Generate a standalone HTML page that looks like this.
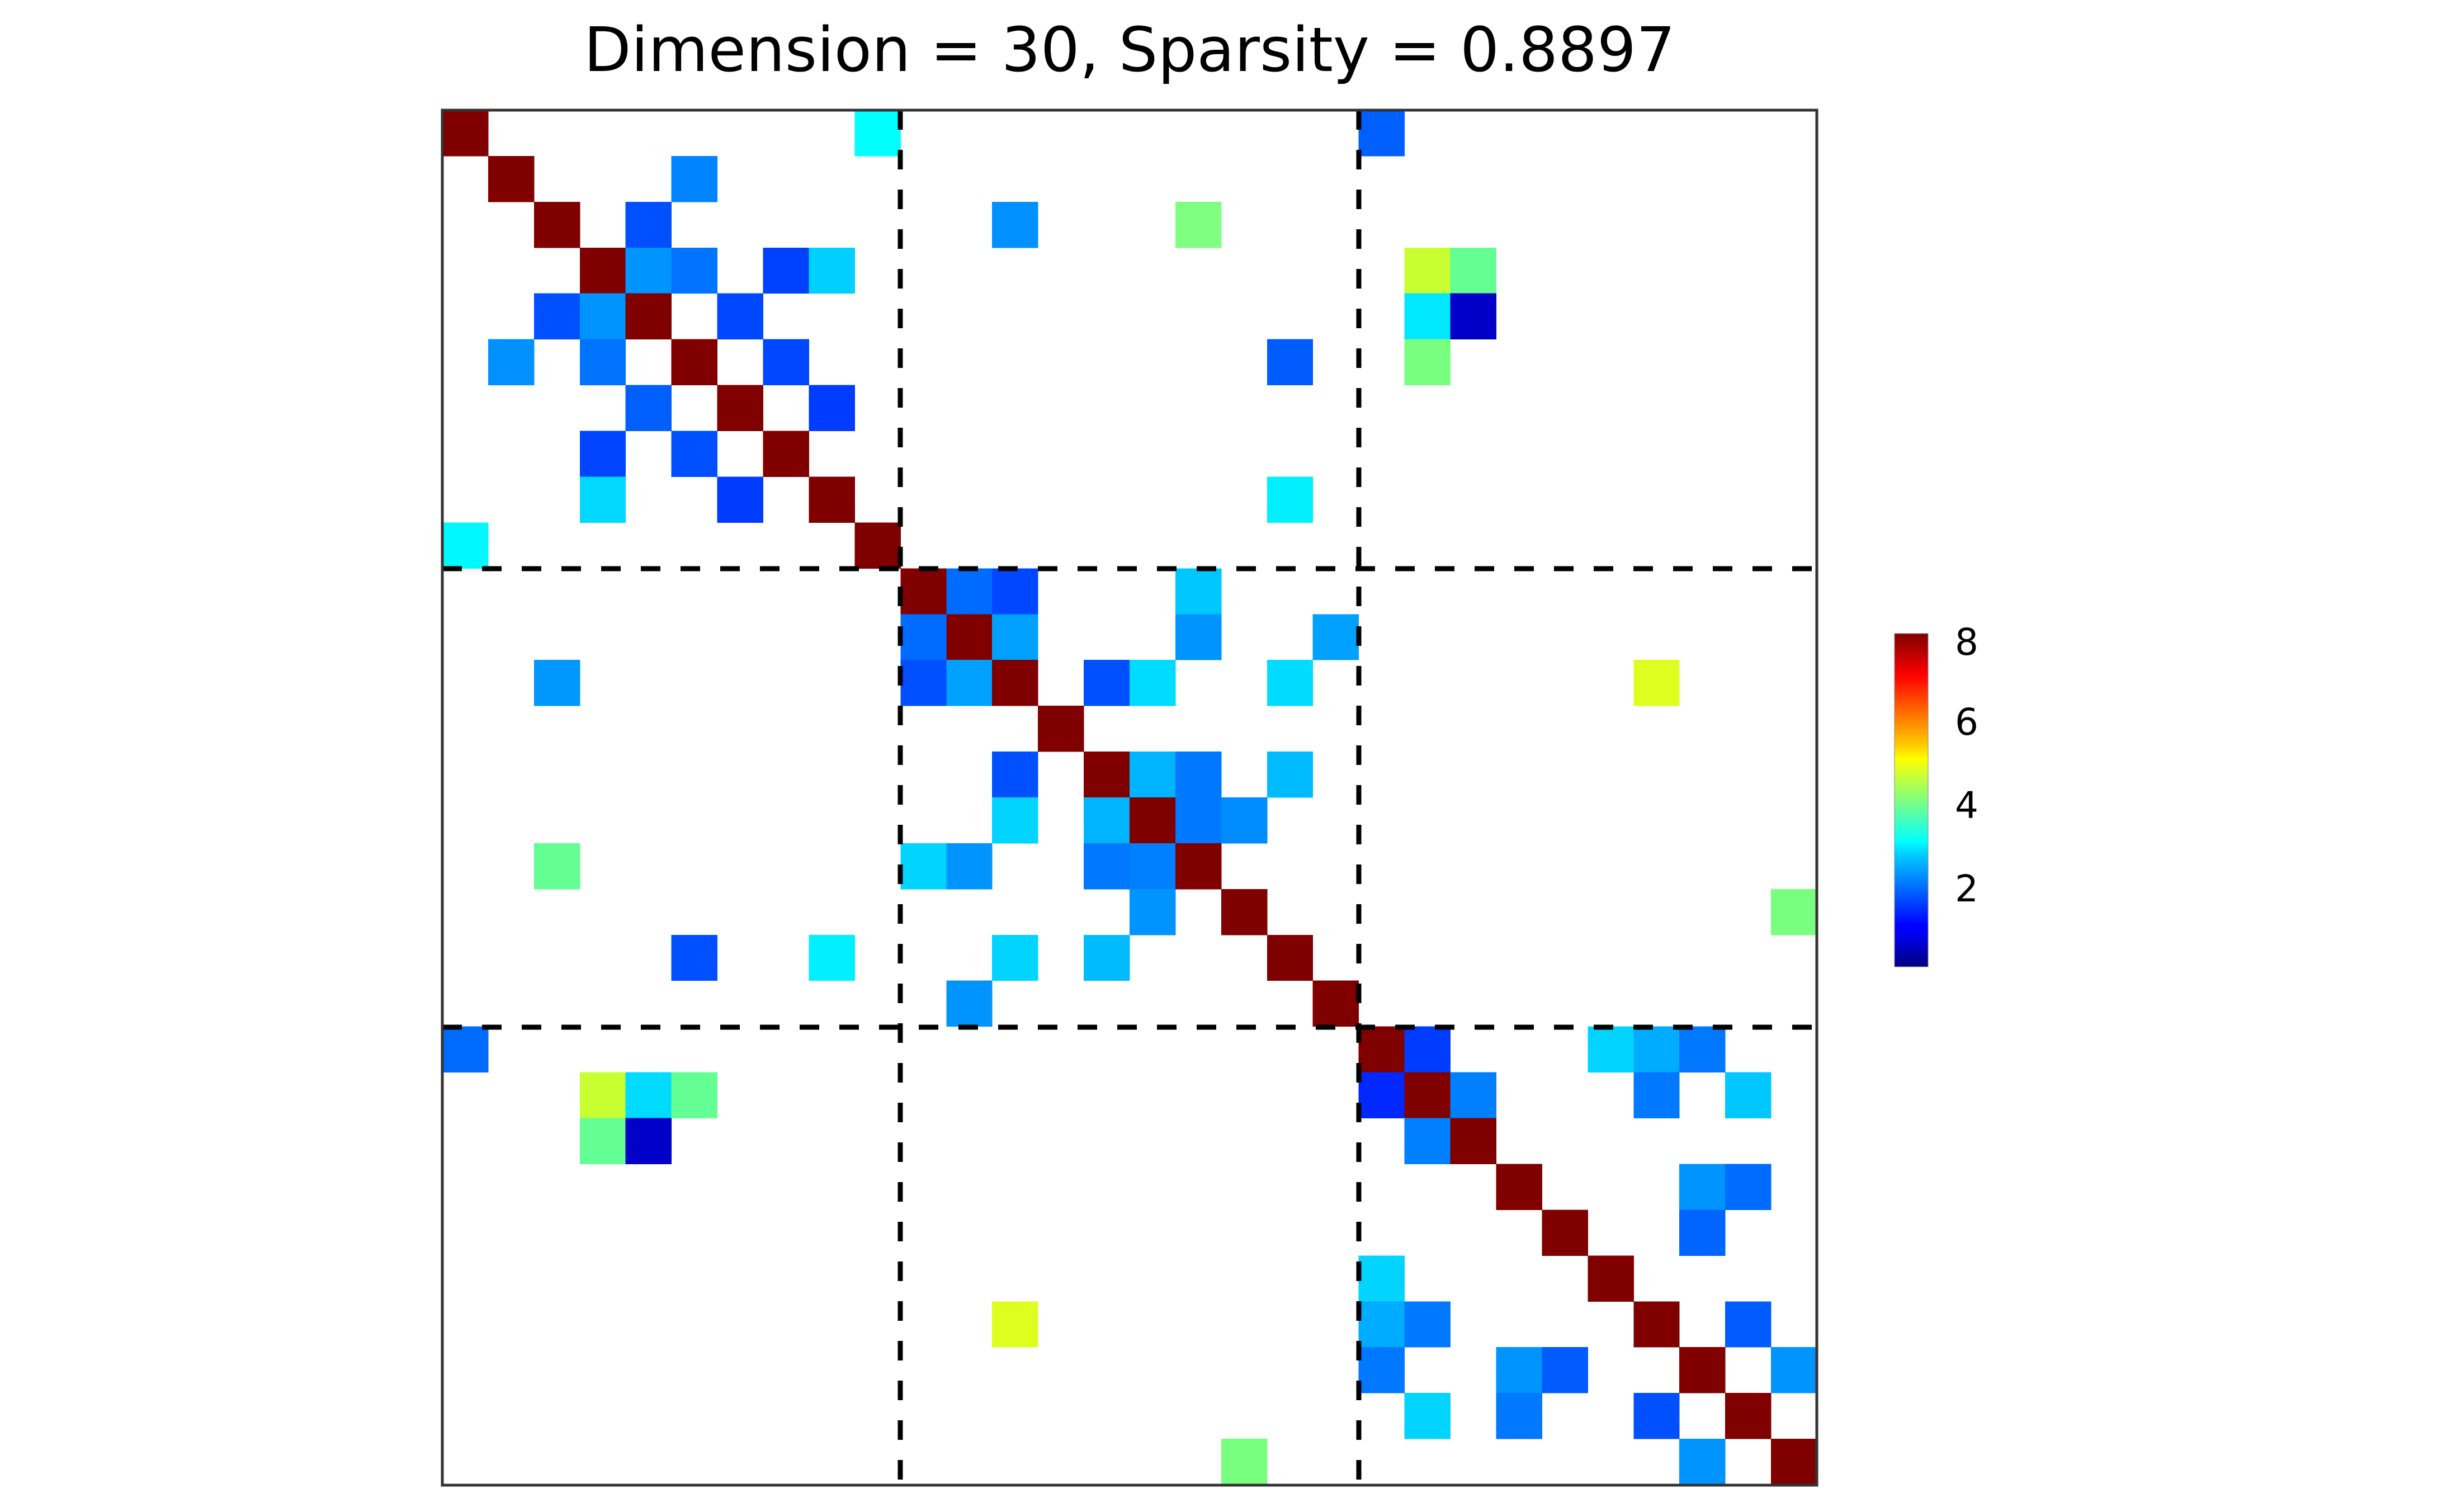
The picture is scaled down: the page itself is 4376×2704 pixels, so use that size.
<!DOCTYPE html>
<html><head><meta charset="utf-8"><style>html,body{margin:0;padding:0;background:#fff}svg{display:block}</style></head>
<body>
<svg xmlns="http://www.w3.org/2000/svg" width="4376" height="2704" viewBox="0 0 4376 2704">
<defs>
<linearGradient id="jet" x1="0" y1="1" x2="0" y2="0">
<stop offset="0" stop-color="#000080"/>
<stop offset="0.11" stop-color="#0000ff"/>
<stop offset="0.125" stop-color="#0000ff"/>
<stop offset="0.34" stop-color="#00d0ff"/>
<stop offset="0.375" stop-color="#00ffff"/>
<stop offset="0.5" stop-color="#80ff80"/>
<stop offset="0.625" stop-color="#ffff00"/>
<stop offset="0.66" stop-color="#ffd000"/>
<stop offset="0.875" stop-color="#ff0000"/>
<stop offset="1" stop-color="#800000"/>
</linearGradient>
</defs>
<rect width="4376" height="2704" fill="#fff"/>
<text x="2020" y="127" font-family="DejaVu Sans, Liberation Sans, sans-serif" font-size="110" text-anchor="middle" fill="#000">Dimension = 30, Sparsity = 0.8897</text>
<g id="cells" shape-rendering="crispEdges"></g>
<g stroke="#000" stroke-width="9" stroke-dasharray="35 36" fill="none">
<line x1="1610" y1="197" x2="1610" y2="2656"/>
<line x1="2430" y1="197" x2="2430" y2="2656"/>
<line x1="791" y1="1017" x2="3249" y2="1017"/>
<line x1="791" y1="1837" x2="3249" y2="1837"/>
</g>
<rect x="791" y="197" width="2458" height="2459" fill="none" stroke="#333" stroke-width="5"/>
<rect x="3388" y="1133" width="60" height="596" fill="url(#jet)" stroke="#888" stroke-width="1"/>
<g font-family="DejaVu Sans, Liberation Sans, sans-serif" font-size="66" fill="#000">
<text x="3496" y="1171">8</text>
<text x="3496" y="1314">6</text>
<text x="3496" y="1463">4</text>
<text x="3496" y="1612">2</text>
</g>
<script>
var M="#800000";
var d=[
[0,0,M],[0,9,"#00ffff"],[0,20,"#0060ff"],
[1,1,M],[1,5,"#0084ff"],
[2,2,M],[2,4,"#0050ff"],[2,12,"#0090ff"],[2,16,"#80ff80"],
[3,3,M],[3,4,"#0094ff"],[3,5,"#0074ff"],[3,7,"#0040ff"],[3,8,"#00d0ff"],[3,21,"#c8ff30"],[3,22,"#64ff94"],
[4,2,"#0050ff"],[4,3,"#0094ff"],[4,4,M],[4,6,"#0048ff"],[4,21,"#00e8ff"],[4,22,"#0000c8"],
[5,1,"#0090ff"],[5,3,"#0074ff"],[5,5,M],[5,7,"#0048ff"],[5,18,"#005cff"],[5,21,"#78ff80"],
[6,4,"#0060ff"],[6,6,M],[6,8,"#003cff"],
[7,3,"#0044ff"],[7,5,"#0050ff"],[7,7,M],
[8,3,"#00d8ff"],[8,6,"#003cff"],[8,8,M],[8,18,"#00f0ff"],
[9,0,"#00f8ff"],[9,9,M],
[10,10,M],[10,11,"#006cff"],[10,12,"#0048ff"],[10,16,"#00c8ff"],
[11,10,"#006cff"],[11,11,M],[11,12,"#00a0ff"],[11,16,"#0094ff"],[11,19,"#00a0ff"],
[12,2,"#0098ff"],[12,10,"#0050ff"],[12,11,"#00a0ff"],[12,12,M],[12,14,"#0050ff"],[12,15,"#00dcff"],[12,18,"#00dcff"],[12,26,"#dcff20"],
[13,13,M],
[14,12,"#0050ff"],[14,14,M],[14,15,"#00b4ff"],[14,16,"#0078ff"],[14,18,"#00bcff"],
[15,12,"#00d4ff"],[15,14,"#00b4ff"],[15,15,M],[15,16,"#0078ff"],[15,17,"#008cff"],
[16,2,"#64ff94"],[16,10,"#00d4ff"],[16,11,"#0094ff"],[16,14,"#0078ff"],[16,15,"#0080ff"],[16,16,M],
[17,15,"#0094ff"],[17,17,M],[17,29,"#78ff80"],
[18,5,"#0050ff"],[18,8,"#00f0ff"],[18,12,"#00d4ff"],[18,14,"#00bcff"],[18,18,M],
[19,11,"#0094ff"],[19,19,M],
[20,0,"#006cff"],[20,20,M],[20,21,"#003cff"],[20,25,"#00d4ff"],[20,26,"#00acff"],[20,27,"#0078ff"],
[21,3,"#c8ff30"],[21,4,"#00dcff"],[21,5,"#64ff94"],[21,20,"#0028ff"],[21,21,M],[21,22,"#0080ff"],[21,26,"#0078ff"],[21,28,"#00c8ff"],
[22,3,"#64ff94"],[22,4,"#0000c8"],[22,21,"#0080ff"],[22,22,M],
[23,23,M],[23,27,"#0094ff"],[23,28,"#006cff"],
[24,24,M],[24,27,"#0064ff"],
[25,20,"#00d4ff"],[25,25,M],
[26,12,"#dcff20"],[26,20,"#00acff"],[26,21,"#0078ff"],[26,26,M],[26,28,"#005cff"],
[27,20,"#0078ff"],[27,23,"#0094ff"],[27,24,"#005cff"],[27,27,M],[27,29,"#0094ff"],
[28,21,"#00d4ff"],[28,23,"#0078ff"],[28,26,"#0050ff"],[28,28,M],
[29,17,"#78ff80"],[29,27,"#0094ff"],[29,29,M]
];
var g=document.getElementById("cells"),ns="http://www.w3.org/2000/svg",c=2458/30;
d.forEach(function(e){var r=document.createElementNS(ns,"rect");
r.setAttribute("x",(791+e[1]*c).toFixed(2));r.setAttribute("y",(197+e[0]*c).toFixed(2));
r.setAttribute("width",(c+0.5).toFixed(2));r.setAttribute("height",(c+0.5).toFixed(2));
r.setAttribute("fill",e[2]);g.appendChild(r);});
</script>
</svg>
</body></html>
